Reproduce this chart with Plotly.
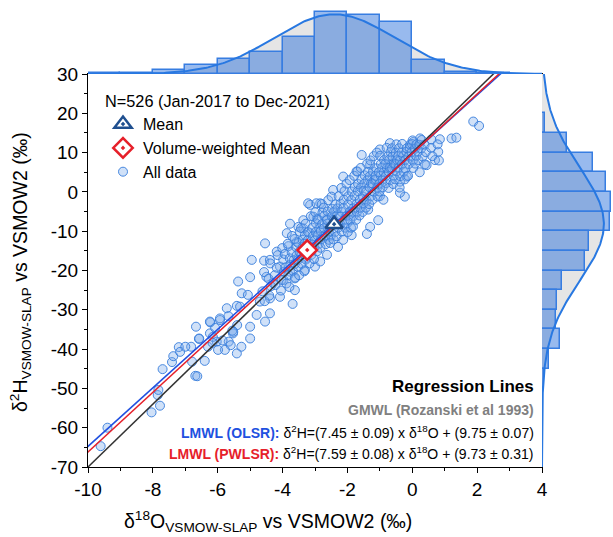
import numpy as np
import plotly.graph_objects as go

# ---------------- data ----------------
sparse_pts = [
    (-9.61, -64.7), (-9.40, -60.0), (-8.04, -56.1), (-7.78, -54.4), (-7.85, -51.7), (-7.83, -50.4),
    (-7.70, -45.1), (-6.69, -46.8), (-6.63, -46.9), (-7.41, -43.3), (-7.37, -41.8), (-7.20, -39.5),
    (-7.16, -40.7), (-6.82, -39.4), (-6.79, -43.2), (-6.58, -37.4), (-6.40, -43.0), (-6.67, -34.3),
    (-6.24, -36.0), (-6.23, -33.2), (-6.08, -34.6), (-5.93, -32.6), (-5.72, -29.6), (-5.41, -29.0),
    (-5.67, -31.6), (-6.03, -38.1), (-5.78, -40.2), (-5.99, -40.2), (-5.66, -38.1), (-5.41, -41.1),
    (-5.53, -36.0), (-6.30, -39.4), (-6.15, -36.9), (-5.40, -33.9), (-5.55, -35.3), (-7.00, -39.4),
    (-6.57, -37.3), (-6.24, -33.0), (-5.93, -32.2), (-5.37, -22.8), (-5.00, -21.7), (-4.95, -17.3),
    (-4.54, -13.1), (-4.57, -17.5), (-5.26, -25.8), (-5.07, -26.2), (-5.31, -29.2), (-4.70, -27.9),
    (-4.39, -27.1), (-4.08, -26.7), (-3.62, -25.0), (-3.69, -28.5), (-4.54, -33.0), (-5.00, -34.3),
    (-5.00, -37.3), (-4.39, -30.9), (-4.80, -31.3), (-5.52, -35.6), (-5.85, -37.8), (-6.16, -38.4),
    (-5.60, -39.0), (-5.27, -39.4), (-3.87, -10.5), (-3.82, -13.8), (-4.18, -15.2), (-4.39, -17.3),
    (-4.08, -19.0), (-3.77, -20.3), (-4.50, -21.6), (-4.29, -23.2), (-3.97, -22.4), (-3.62, -22.0),
    (-3.31, -19.9), (-3.00, -19.0), (-3.26, -16.8), (-2.84, -17.7), (-2.63, -16.0), (-3.15, -10.5),
    (-3.36, -7.2), (-2.94, -6.8), (-3.15, -3.3), (-2.84, -2.9), (-2.63, -6.8), (-2.74, -11.4),
    (-3.56, -12.7), (-3.51, -8.9), (-3.77, -8.1), (1.88, 17.9), (2.06, 16.8), (1.21, 13.6),
    (1.36, 13.8), (0.85, 13.4), (0.59, 13.3), (0.24, 13.6), (0.03, 12.7), (0.80, 10.2),
    (0.70, 8.1), (0.44, 6.8), (-0.17, 3.9), (-0.23, -1.2), (-0.38, -0.2), (-1.05, -7.2),
    (-1.30, -8.9), (-1.40, -10.7), (-1.87, -11.0), (-1.56, 9.4), (-1.00, 10.8), (-0.69, 12.4),
    (-3.21, -2.9), (-2.96, -2.9), (-3.05, -6.3), (-3.36, -9.3), (-2.44, 0.5), (-2.13, 3.9),
    (-1.72, 5.2), (-1.30, 6.9), (-0.64, 6.9), (-0.38, 2.6), (-1.00, -1.1), (-1.36, -4.5),
]
dense_pts = [
    (-4.62, -25.3), (-4.57, -20.4), (-4.55, -27.8), (-4.43, -22.1), (-4.38, -18.2), (-4.41, -26.4),
    (-4.36, -24.0), (-4.22, -23.7), (-4.18, -19.3), (-4.24, -21.2), (-4.15, -16.1), (-4.03, -22.4),
    (-3.98, -17.2), (-4.05, -25.1), (-3.96, -20.3), (-4.01, -14.3), (-3.91, -19.2), (-3.88, -23.3),
    (-3.93, -15.8), (-3.82, -21.1), (-3.78, -16.9), (-3.84, -13.2), (-3.79, -24.2), (-3.76, -18.6),
    (-3.72, -15.3), (-3.68, -20.1), (-3.71, -11.2), (-3.66, -17.4), (-3.62, -18.3), (-3.58, -14.1),
    (-3.61, -21.8), (-3.57, -16.2), (-3.63, -12.0), (-3.52, -19.1), (-3.48, -15.2), (-3.51, -13.0),
    (-3.47, -10.1), (-3.53, -17.3), (-3.49, -21.2), (-3.42, -16.1), (-3.38, -12.2), (-3.41, -18.3),
    (-3.37, -14.0), (-3.43, -9.2), (-3.32, -13.1), (-3.28, -17.2), (-3.31, -11.0), (-3.27, -15.3),
    (-3.33, -20.2), (-3.29, -8.1), (-3.22, -12.3), (-3.18, -15.1), (-3.21, -10.2), (-3.17, -18.2),
    (-3.23, -14.0), (-3.12, -13.2), (-3.08, -9.1), (-3.11, -16.0), (-3.07, -11.3), (-3.13, -6.2),
    (-3.02, -14.1), (-2.98, -10.2), (-3.01, -12.3), (-2.97, -8.0), (-3.03, -17.1), (-2.99, -5.2),
    (-2.92, -11.1), (-2.88, -13.2), (-2.91, -7.0), (-2.87, -9.3), (-2.93, -15.1), (-2.82, -10.0),
    (-2.78, -8.2), (-2.81, -12.1), (-2.77, -5.3), (-2.83, -14.2), (-2.79, -3.1), (-2.72, -9.2),
    (-2.68, -11.0), (-2.71, -6.1), (-2.67, -13.3), (-2.73, -4.0), (-2.62, -8.1), (-2.58, -10.3),
    (-2.61, -5.0), (-2.57, -12.2), (-2.63, -7.2), (-2.59, -2.1), (-2.52, -9.0), (-2.48, -6.2),
    (-2.51, -11.1), (-2.47, -4.3), (-2.53, -13.0), (-2.49, -1.2), (-2.42, -7.1), (-2.38, -10.2),
    (-2.41, -5.0), (-2.37, -3.2), (-2.43, -12.1), (-2.39, -8.3), (-2.32, -6.0), (-2.28, -9.1),
    (-2.31, -4.2), (-2.27, -1.1), (-2.33, -11.3), (-2.29, -14.0), (-2.22, -8.2), (-2.18, -5.1),
    (-2.21, -3.0), (-2.17, -10.1), (-2.23, -6.3), (-2.19, 1.0), (-2.12, -4.1), (-2.08, -7.2),
    (-2.11, -2.0), (-2.07, -9.1), (-2.13, -12.2), (-2.09, 0.2), (-2.02, -6.1), (-1.98, -3.2),
    (-2.01, -8.0), (-1.97, -1.1), (-2.03, 2.1), (-1.99, -10.2), (-1.92, -5.0), (-1.88, -2.1),
    (-1.91, -7.2), (-1.87, 0.1), (-1.93, 3.0), (-1.89, -9.1), (-1.82, -4.2), (-1.78, -1.0),
    (-1.81, -6.1), (-1.77, 1.2), (-1.83, -8.8), (-1.79, 4.1), (-1.72, -3.1), (-1.68, 0.2),
    (-1.71, -5.2), (-1.67, 2.0), (-1.73, -7.1), (-1.69, 5.2), (-1.62, -2.0), (-1.58, 1.1),
    (-1.61, -4.1), (-1.57, 3.2), (-1.63, -6.0), (-1.59, 6.1), (-1.52, -1.2), (-1.48, 2.1),
    (-1.51, -3.0), (-1.47, 4.2), (-1.53, -5.1), (-1.49, 0.3), (-1.42, 0.1), (-1.38, 3.0),
    (-1.41, -2.2), (-1.37, 5.1), (-1.43, -4.0), (-1.39, 7.2), (-1.32, 1.2), (-1.28, -1.1),
    (-1.31, 4.0), (-1.27, 2.2), (-1.33, -3.1), (-1.29, 8.0), (-1.22, 2.1), (-1.18, 0.0),
    (-1.21, 5.2), (-1.17, 3.1), (-1.23, -2.0), (-1.19, 9.1), (-1.12, 3.2), (-1.08, 1.1),
    (-1.11, 6.0), (-1.07, -1.2), (-1.13, 4.1), (-1.09, 10.0), (-1.02, 2.0), (-0.98, 4.2),
    (-1.01, 0.1), (-0.97, 7.1), (-1.03, 5.0), (-0.99, 9.2), (-0.92, 3.1), (-0.88, 5.0),
    (-0.91, 1.2), (-0.87, 8.1), (-0.93, 6.2), (-0.89, -2.0), (-0.82, 4.0), (-0.78, 6.1),
    (-0.81, 2.2), (-0.77, 9.0), (-0.83, 7.1), (-0.79, 11.2), (-0.72, 5.1), (-0.68, 3.0),
    (-0.71, 8.2), (-0.67, 10.1), (-0.73, 1.0), (-0.69, 6.2), (-0.62, 6.0), (-0.58, 4.1),
    (-0.61, 9.0), (-0.57, 7.2), (-0.63, 11.1), (-0.59, 2.0), (-0.52, 7.1), (-0.48, 5.2),
    (-0.51, 10.0), (-0.47, 8.1), (-0.53, 3.2), (-0.49, 12.1), (-0.42, 6.2), (-0.38, 8.0),
    (-0.41, 11.1), (-0.37, 4.0), (-0.43, 9.2), (-0.39, 1.1), (-0.32, 7.0), (-0.28, 9.1),
    (-0.31, 12.2), (-0.27, 5.1), (-0.33, 10.0), (-0.22, 8.1), (-0.18, 10.2), (-0.21, 6.0),
    (-0.17, 11.1), (-0.23, 3.2), (-0.12, 9.0), (-0.08, 11.2), (-0.11, 7.1), (-0.07, 12.0),
    (-0.13, 4.1), (-0.02, 10.1), (0.02, 8.0), (-0.01, 12.2), (0.03, 6.1), (0.01, 13.1),
    (0.08, 11.0), (0.12, 9.1), (0.09, 7.2), (0.13, 12.1), (0.18, 10.2), (0.22, 12.0),
    (0.19, 8.1), (0.23, 5.0), (0.28, 11.1), (0.32, 9.0), (0.29, 13.2), (0.38, 12.0),
    (0.42, 10.1), (0.39, 7.0), (0.58, 11.2), (0.62, 9.1), (0.78, 12.1), (0.82, 8.0),
]

mean_pt = (-2.41, -8.2)
vw_mean_pt = (-3.24, -14.8)

# histogram of d18O (bin width 1)
h18_centers = [-9.5, -8.5, -7.5, -6.5, -5.5, -4.5, -3.5, -2.5, -1.5, -0.5, 0.5, 1.5, 2.5]
h18_counts = [2, 1, 8, 17, 28, 42, 70, 117, 111, 98, 26, 3, 2]
# histogram of d2H (bin width 5)
h2_centers = [17.5, 12.5, 7.5, 2.5, -2.5, -7.5, -12.5, -17.5, -22.5, -27.5, -32.5, -37.5,
              -42.5, -47.5, -52.5, -57.5, -62.5]
h2_counts = [4, 29, 60, 75, 81, 80, 55, 50, 23, 18, 16, 21, 8, 2, 1, 1, 1]

# fitted normal distributions (mean, sd)
norm18 = (-2.40, 1.86)
norm2 = (-8.2, 14.5)
n_total = 526

# regression lines: slope, slope err, intercept, intercept err
gmwl = (8.0, 10.0)
olsr = (7.45, 0.09, 9.75, 0.07)
pwlsr = (7.59, 0.08, 9.73, 0.31)

x_ticks = [-10, -8, -6, -4, -2, 0, 2, 4]
x_ticklabels = ["-10", "-8", "-6", "-4", "-2", "0", "2", "4"]
y_ticks = [30, 20, 10, 0, -10, -20, -30, -40, -50, -60, -70]
y_ticklabels = ["30", "20", "10", "0", "-10", "-20", "-30", "-40", "-50", "-60", "-70"]

# ---------------- layout geometry ----------------
W, H = 613, 537
PX0, PX1 = 88, 542
PY0, PY1 = 74, 467
xd = [PX0 / W, PX1 / W]
yd = [1 - PY1 / H, 1 - PY0 / H]
FONT = "Liberation Sans, Arial, sans-serif"

BLUE_PT_FILL = "rgba(120,170,235,0.35)"
BLUE_PT_LINE = "rgba(55,125,220,0.9)"
BAR_FILL = "rgba(40,110,220,0.48)"
BAR_LINE = "rgb(55,125,225)"
CURVE = "rgb(40,120,225)"
GRAYFILL = "rgb(229,229,229)"
LBLUE = "#2050e0"
LRED = "#e6202a"
DARKBLUE = "#1f4f8f"

fig = go.Figure()

all_pts = sparse_pts + dense_pts
xs = [p[0] for p in all_pts]
ys = [p[1] for p in all_pts]

fig.add_trace(go.Scatter(
    x=xs, y=ys, mode="markers", name="All data", legendrank=3,
    marker=dict(symbol="circle", size=9, color=BLUE_PT_FILL, line=dict(color=BLUE_PT_LINE, width=1)),
    xaxis="x", yaxis="y"))

xl = np.array([-10.5, 4.5])
fig.add_trace(go.Scatter(x=xl, y=gmwl[0] * xl + gmwl[1], mode="lines", showlegend=False,
                         line=dict(color="#333333", width=1.5), xaxis="x", yaxis="y"))
fig.add_trace(go.Scatter(x=xl, y=olsr[0] * xl + olsr[2], mode="lines", showlegend=False,
                         line=dict(color=LBLUE, width=1.5), xaxis="x", yaxis="y"))
fig.add_trace(go.Scatter(x=xl, y=pwlsr[0] * xl + pwlsr[2], mode="lines", showlegend=False,
                         line=dict(color=LRED, width=1.5), xaxis="x", yaxis="y"))

# white backgrounds for the mean markers
fig.add_trace(go.Scatter(x=[mean_pt[0]], y=[mean_pt[1]], mode="markers", showlegend=False,
                         marker=dict(symbol="triangle-up", size=15, color="white"), xaxis="x", yaxis="y"))
fig.add_trace(go.Scatter(x=[vw_mean_pt[0]], y=[vw_mean_pt[1]], mode="markers", showlegend=False,
                         marker=dict(symbol="diamond", size=15, color="white"), xaxis="x", yaxis="y"))
fig.add_trace(go.Scatter(x=[mean_pt[0]], y=[mean_pt[1]], mode="markers", name="Mean", legendrank=1,
                         marker=dict(symbol="triangle-up-open-dot", size=15, color=DARKBLUE,
                                     line=dict(color=DARKBLUE, width=2.5)), xaxis="x", yaxis="y"))
fig.add_trace(go.Scatter(x=[vw_mean_pt[0]], y=[vw_mean_pt[1]], mode="markers",
                         name="Volume-weighted Mean", legendrank=2,
                         marker=dict(symbol="diamond-open-dot", size=15, color=LRED,
                                     line=dict(color=LRED, width=2.5)), xaxis="x", yaxis="y"))

# ---- top histogram (d18O): gray area on base axes, bars + curve on overlay axes ----
gx = np.linspace(-10, 4, 300)
pdf18 = n_total * 1.0 * np.exp(-0.5 * ((gx - norm18[0]) / norm18[1]) ** 2) / (norm18[1] * np.sqrt(2 * np.pi))
fig.add_trace(go.Scatter(x=gx, y=pdf18, mode="lines", fill="tozeroy", fillcolor=GRAYFILL,
                         line=dict(width=0), showlegend=False, xaxis="x2", yaxis="y2"))
fig.add_trace(go.Bar(x=h18_centers, y=h18_counts, width=1.0, showlegend=False,
                     marker=dict(color=BAR_FILL, line=dict(color=BAR_LINE, width=1.5)),
                     xaxis="x2", yaxis="y4"))
fig.add_trace(go.Scatter(x=gx, y=pdf18, mode="lines", line=dict(color=CURVE, width=2),
                         showlegend=False, xaxis="x2", yaxis="y4"))

# ---- right histogram (d2H) ----
gy = np.linspace(-70, 30, 300)
pdf2 = n_total * 5.0 * np.exp(-0.5 * ((gy - norm2[0]) / norm2[1]) ** 2) / (norm2[1] * np.sqrt(2 * np.pi))
fig.add_trace(go.Scatter(x=pdf2, y=gy, mode="lines", fill="tozerox", fillcolor=GRAYFILL,
                         line=dict(width=0), showlegend=False, xaxis="x3", yaxis="y3"))
fig.add_trace(go.Bar(y=h2_centers, x=h2_counts, width=5.0, orientation="h", showlegend=False,
                     marker=dict(color=BAR_FILL, line=dict(color=BAR_LINE, width=1.5)),
                     xaxis="x5", yaxis="y3"))
fig.add_trace(go.Scatter(x=pdf2, y=gy, mode="lines", line=dict(color=CURVE, width=2),
                         showlegend=False, xaxis="x5", yaxis="y3"))

# ---------------- annotations ----------------
RX = 536 / W
def eq(c):
    return (f"δ<sup>2</sup>H=({c[0]:.2f} ± {c[1]:.2f}) x δ<sup>18</sup>O + "
            f"({c[2]:.2f} ± {c[3]:.2f})")

annots = [
    dict(x=RX, y=1 - 386 / H, text="<b>Regression Lines</b>", font=dict(size=17, color="black")),
    dict(x=RX, y=1 - 410 / H, text="<b>GMWL (Rozanski et al 1993)</b>", font=dict(size=14, color="#808080")),
    dict(x=RX, y=1 - 432 / H, text=f"<b><span style='color:{LBLUE}'>LMWL (OLSR):</span></b> " + eq(olsr),
         font=dict(size=14, color="black")),
    dict(x=RX, y=1 - 453 / H, text=f"<b><span style='color:{LRED}'>LMWL (PWLSR):</span></b> " + eq(pwlsr),
         font=dict(size=14, color="black")),
]
for a in annots:
    a.update(xref="paper", yref="paper", xanchor="right", yanchor="middle", showarrow=False)
# axis titles
annots.append(dict(x=268 / W, y=1 - 521 / H, xref="paper", yref="paper", showarrow=False,
                   xanchor="center", yanchor="middle",
                   text="δ<sup>18</sup>O<sub>VSMOW-SLAP</sub> vs VSMOW2 (‰)", font=dict(size=19.5)))
annots.append(dict(x=20 / W, y=1 - 272 / H, xref="paper", yref="paper", showarrow=False,
                   xanchor="center", yanchor="middle", textangle=-90,
                   text="δ<sup>2</sup>H<sub>VSMOW-SLAP</sub> vs VSMOW2 (‰)", font=dict(size=19.5)))

axis_common = dict(showgrid=False, zeroline=False, automargin=False)

fig.update_layout(
    width=W, height=H, margin=dict(l=0, r=0, t=0, b=0),
    paper_bgcolor="white", plot_bgcolor="rgba(0,0,0,0)",
    font=dict(family=FONT, color="black"),
    barmode="overlay", bargap=0,
    showlegend=True,
    legend=dict(x=103 / W, y=1 - 86 / H, xanchor="left", yanchor="top",
                bgcolor="rgba(0,0,0,0)", font=dict(size=16),
                title=dict(text="N=526 (Jan-2017 to Dec-2021)", font=dict(size=16.3)),
                tracegroupgap=0, itemsizing="trace"),
    annotations=annots,
    xaxis=dict(domain=xd, range=[-10, 4], anchor="y", tickmode="array", tickvals=x_ticks,
               ticktext=x_ticklabels, ticks="outside", ticklen=5, tickcolor="black",
               tickfont=dict(size=19), showline=True, linecolor="black", linewidth=1, mirror=True,
               minor=dict(tickmode="array", tickvals=[-9, -7, -5, -3, -1, 1, 3], ticks="outside",
                          ticklen=3, tickcolor="black"),
               **axis_common),
    yaxis=dict(domain=yd, range=[-70, 30], anchor="x", tickmode="array", tickvals=y_ticks,
               ticktext=y_ticklabels, ticks="outside", ticklen=5, tickcolor="black",
               tickfont=dict(size=19), showline=True, linecolor="black", linewidth=1, mirror=True,
               minor=dict(tickmode="array", tickvals=[25, 15, 5, -5, -15, -25, -35, -45, -55, -65],
                          ticks="outside", ticklen=3, tickcolor="black"),
               **axis_common),
    xaxis2=dict(domain=xd, range=[-10, 4], anchor="y2", visible=False, **axis_common),
    yaxis2=dict(domain=[yd[1], 1.0], range=[0, 140], anchor="x2", visible=False, **axis_common),
    yaxis4=dict(domain=[yd[1], 1.0], range=[0, 140], anchor="x2", overlaying="y2", visible=False,
                **axis_common),
    xaxis3=dict(domain=[xd[1], 1.0], range=[0, 83], anchor="y3", visible=False, **axis_common),
    yaxis3=dict(domain=yd, range=[-70, 30], anchor="x3", visible=False, **axis_common),
    xaxis5=dict(domain=[xd[1], 1.0], range=[0, 83], anchor="y3", overlaying="x3", visible=False,
                **axis_common),
)

fig.write_html("out.html")
